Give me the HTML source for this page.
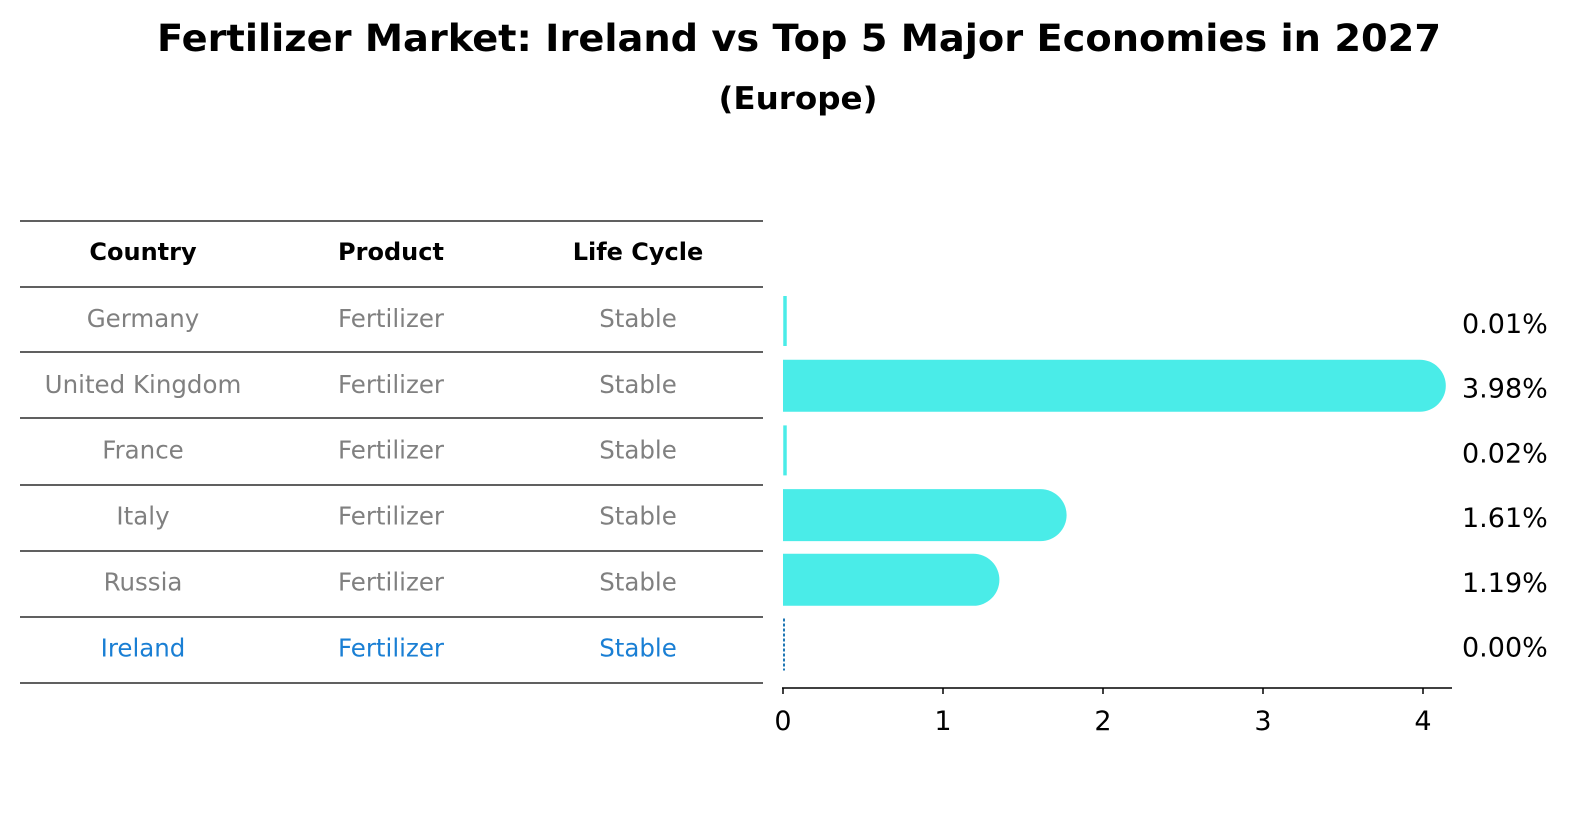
<!DOCTYPE html>
<html><head><meta charset="utf-8"><style>
body{margin:0;background:#fff;font-family:"DejaVu Sans","Liberation Sans",sans-serif;}
</style></head><body>
<svg id="c" width="1586" height="823" xmlns="http://www.w3.org/2000/svg" font-family="DejaVu Sans, Liberation Sans, sans-serif">
<text x="799" y="51" text-anchor="middle" font-size="37" font-weight="bold" textLength="1284" lengthAdjust="spacingAndGlyphs">Fertilizer Market: Ireland vs Top 5 Major Economies in 2027</text>
<text x="798" y="109" text-anchor="middle" font-size="31" font-weight="bold" textLength="159" lengthAdjust="spacingAndGlyphs">(Europe)</text>
<g id="table"></g>
<g id="bars"></g>
</svg>
<script>
const countries=["Germany","United Kingdom","France","Italy","Russia","Ireland"];
const products=["Fertilizer","Fertilizer","Fertilizer","Fertilizer","Fertilizer","Fertilizer"];
const lifeCycles=["Stable","Stable","Stable","Stable","Stable","Stable"];
const values=[0.01,3.98,0.02,1.61,1.19,0.00];
const valueLabels=["0.01%","3.98%","0.02%","1.61%","1.19%","0.00%"];
const ticks=[0,1,2,3,4];
const NS="http://www.w3.org/2000/svg";
function mk(tag,attrs,parent,text){const e=document.createElementNS(NS,tag);for(const k in attrs)e.setAttribute(k,attrs[k]);if(text!==undefined)e.textContent=text;parent.appendChild(e);return e;}
const x=v=>783+v*160;
const rowY=i=>321+i*64.7;
const tbl=document.getElementById('table');
const lineYs=[221,287,352,418,485,551,617,683];
lineYs.forEach(y=>{const l=mk('line',{x1:20,x2:763,y1:y,y2:y,stroke:'#000','stroke-width':1.2},tbl);

});
const colX=[143,391,638];
["Country","Product","Life Cycle"].forEach((h,j)=>{const t=mk('text',{x:colX[j],y:260,'text-anchor':'middle','font-size':24,'font-weight':'bold'},tbl,h);

});
countries.forEach((c,i)=>{const col=i===countries.length-1?'#1a7fd4':'#808080';
[c,products[i],lifeCycles[i]].forEach((s,j)=>{const t=mk('text',{x:colX[j],y:(254+(i+1)*65.9)+7,'text-anchor':'middle','font-size':24.5,fill:col},tbl,s);

});});
const g=document.getElementById('bars');
values.forEach((v,i)=>{const cy=rowY(i),h=52,last=i===values.length-1;let b;
if(last){b=mk('line',{x1:x(0)+1,x2:x(0)+1,y1:cy-26,y2:cy+26,stroke:'#1f77b4','stroke-width':2,'stroke-dasharray':'3,2'},g);}
else if(v*160<6){b=mk('line',{x1:x(0)+2,x2:x(0)+2,y1:cy-25,y2:cy+25,stroke:'#4aece8','stroke-width':3.5},g);}
else{const xe=x(v);b=mk('path',{d:`M${x(0)},${cy-h/2} L${xe},${cy-h/2} A26,26 0 0 1 ${xe},${cy+h/2} L${x(0)},${cy+h/2} Z`,fill:'#4aece8'},g);}


const t=mk('text',{x:1462,y:cy+12,'font-size':27},g,valueLabels[i]);

});
const ax=mk('line',{x1:782,x2:1452,y1:688,y2:688,stroke:'#000','stroke-width':1.5},g);


ticks.forEach(tv=>{const tk=mk('line',{x1:x(tv),x2:x(tv),y1:688,y2:694,stroke:'#000','stroke-width':1.5},g);


const t=mk('text',{x:x(tv),y:730,'text-anchor':'middle','font-size':27},g,String(tv));

});
</script>
</body></html>
